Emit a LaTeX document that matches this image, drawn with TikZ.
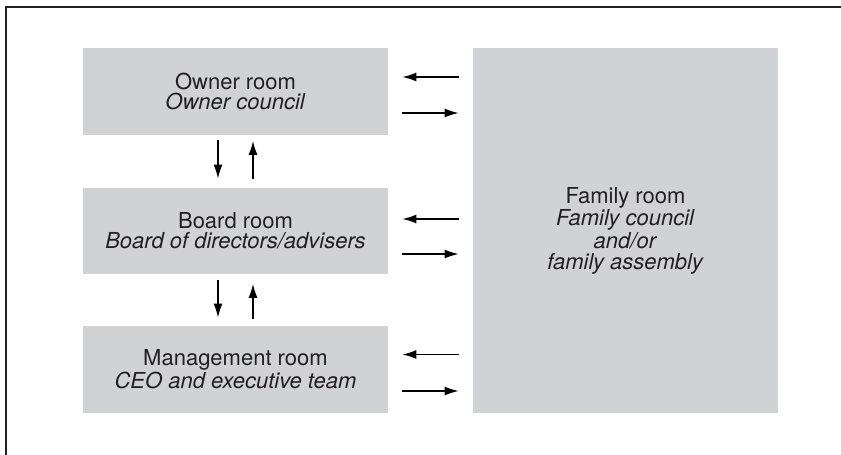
\documentclass[tikz,border=0pt]{standalone}
\usepackage{fontspec}
\setmainfont{TeX Gyre Heros}
\usetikzlibrary{arrows.meta}
\definecolor{roomgray}{RGB}{209,210,212}
\definecolor{inkblack}{RGB}{35,31,32}
\tikzset{
  room node/.style={
    fill=roomgray,
    text=inkblack,
    align=center,
    inner sep=0pt,
    minimum width=152.5pt,
    font=\fontsize{11pt}{10.15pt}\selectfont,
  },
  flow/.style={
    -{Latex[length=7pt,width=4.5pt]},
    line width=0.65pt,
    draw=black,
  },
}
\begin{document}
\begin{tikzpicture}[x=0.5pt, y=-0.5pt]
        \useasboundingbox (0,0) rectangle (841,455);
        \coordinate (corner) at (6,7);
        \coordinate (top)    at (841,7);
        \coordinate (bottom) at (6,455);
        \draw[line width=0.8pt, inkblack] (top) -- (corner) -- (bottom);

        \node[room node, minimum height=43.5pt]  (owner)  at (235.5, 91.5) {Owner room\\\textit{Owner council}};
        \node[room node, minimum height=43pt]    (board)  at (235.5,230.5) {Board room\\\textit{Board of directors/advisers}};
        \node[room node, minimum height=43.5pt]  (mgmt)   at (235.5,369.5) {Management room\\\textit{CEO and executive team}};
        \node[room node, minimum height=182.5pt] (family) at (625.5,230.5) {Family room\\\textit{Family council}\\\textit{and/or}\\\textit{family assembly}};

        % vertical links between the rooms on the left
        \path ([xshift=-8.75pt]owner.south) edge[flow, shorten <=2.5pt, shorten >=4.25pt] ([xshift=-8.75pt]board.north);
        \path ([xshift= 8.75pt]board.north) edge[flow, shorten <=4pt, shorten >=2.75pt]   ([xshift= 8.75pt]owner.south);
        \path ([xshift=-8.75pt]board.south) edge[flow, shorten <=3pt, shorten >=4pt]      ([xshift=-8.75pt]mgmt.north);
        \path ([xshift= 8.75pt]mgmt.north)  edge[flow, shorten <=3.5pt, shorten >=5pt]    ([xshift= 8.75pt]board.south);

        % links to the family room
        \path ([yshift= 7.25pt]owner.east -| family.west) edge[flow, shorten <=7pt, shorten >=7pt] ([yshift= 7.25pt]owner.east);
        \path ([yshift=-10.75pt]owner.east) edge[flow, shorten <=7pt, shorten >=7pt] ([yshift=-10.75pt]owner.east -| family.west);
        \path ([yshift= 5.75pt]board.east -| family.west) edge[flow, shorten <=7pt, shorten >=7pt] ([yshift= 5.75pt]board.east);
        \path ([yshift=-11.75pt]board.east) edge[flow, shorten <=7pt, shorten >=7pt] ([yshift=-11.75pt]board.east -| family.west);
        \path ([yshift= 7.5pt]mgmt.east -| family.west) edge[flow, shorten <=7pt, shorten >=7pt] ([yshift= 7.5pt]mgmt.east);
        \path ([yshift=-10.75pt]mgmt.east) edge[flow, shorten <=7pt, shorten >=7pt] ([yshift=-10.75pt]mgmt.east -| family.west);
\end{tikzpicture}
\end{document}
